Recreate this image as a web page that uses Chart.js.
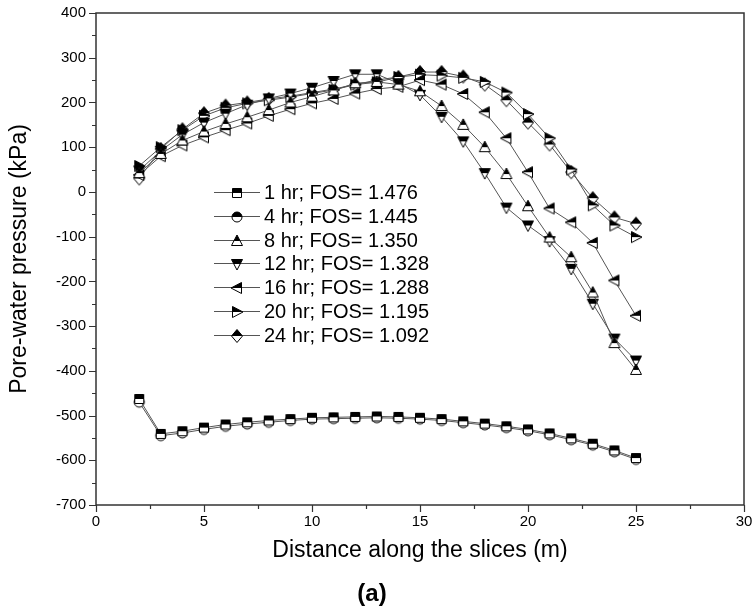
<!DOCTYPE html>
<html>
<head>
<meta charset="utf-8">
<script src="https://cdn.jsdelivr.net/npm/chart.js@4.4.1/dist/chart.umd.min.js"></script>
<style>
  html, body { margin: 0; padding: 0; background: #fff; }
  #wrap { width: 755px; height: 614px; }
</style>
</head>
<body>
<div id="wrap"><canvas id="c" width="755" height="614"></canvas></div>
<script>
// Distance along the slices (m)
const distance = [2, 3, 4, 5, 6, 7, 8, 9, 10, 11, 12, 13, 14, 15, 16, 17, 18, 19, 20, 21, 22, 23, 24, 25];

// Legend labels, one per elapsed time
const seriesLabels = [
  '1 hr; FOS= 1.476',
  '4 hr; FOS= 1.445',
  '8 hr; FOS= 1.350',
  '12 hr; FOS= 1.328',
  '16 hr; FOS= 1.288',
  '20 hr; FOS= 1.195',
  '24 hr; FOS= 1.092'
];

// Pore-water pressure (kPa) at each slice
const pwp1hr  = [-463, -541, -535, -527, -520, -515, -511, -508, -505, -504, -503, -502, -503, -505, -508, -513, -518, -524, -531, -540, -551, -563, -578, -595];
const pwp4hr  = [-470, -545, -539, -531, -524, -519, -515, -511, -508, -507, -506, -505, -506, -508, -511, -516, -521, -527, -534, -543, -554, -566, -581, -598];
const pwp8hr  = [42, 85, 115, 135, 152, 167, 183, 200, 213, 227, 243, 246, 240, 225, 192, 150, 100, 40, -32, -102, -146, -225, -338, -398];
const pwp12hr = [48, 92, 128, 155, 175, 195, 209, 220, 233, 248, 263, 263, 243, 217, 168, 113, 42, -35, -75, -110, -172, -250, -328, -377];
const pwp16hr = [38, 80, 104, 122, 138, 153, 170, 185, 198, 208, 220, 230, 235, 250, 240, 219, 178, 120, 44, -37, -68, -114, -198, -277];
const pwp20hr = [58, 100, 138, 170, 188, 198, 205, 212, 220, 228, 240, 245, 257, 262, 260, 255, 246, 222, 174, 120, 50, -30, -75, -101];
const pwp24hr = [30, 96, 140, 176, 193, 200, 208, 214, 222, 230, 240, 250, 257, 268, 268, 258, 240, 205, 155, 106, 44, -14, -57, -71];

const seriesValues = [pwp1hr, pwp4hr, pwp8hr, pwp12hr, pwp16hr, pwp20hr, pwp24hr];
const markerShapes = ['square', 'circle', 'up', 'down', 'left', 'right', 'diamond'];

// Half-filled markers: black upper half, white lower half, black outline
function makeMarker(shape) {
  const s = 16;
  const c = document.createElement('canvas');
  c.width = s; c.height = s;
  const g = c.getContext('2d');
  const cx = s / 2, cy = s / 2;
  g.beginPath();
  switch (shape) {
    case 'square':  g.rect(cx - 4.5, cy - 4.5, 9, 9); break;
    case 'circle':  g.arc(cx, cy, 5, 0, Math.PI * 2); break;
    case 'up':      g.moveTo(cx, cy - 6); g.lineTo(cx + 5.5, cy + 4.5); g.lineTo(cx - 5.5, cy + 4.5); g.closePath(); break;
    case 'down':    g.moveTo(cx - 5.5, cy - 4.5); g.lineTo(cx + 5.5, cy - 4.5); g.lineTo(cx, cy + 6); g.closePath(); break;
    case 'left':    g.moveTo(cx - 6, cy); g.lineTo(cx + 4.5, cy - 5.5); g.lineTo(cx + 4.5, cy + 5.5); g.closePath(); break;
    case 'right':   g.moveTo(cx + 6, cy); g.lineTo(cx - 4.5, cy - 5.5); g.lineTo(cx - 4.5, cy + 5.5); g.closePath(); break;
    case 'diamond': g.moveTo(cx, cy - 6.5); g.lineTo(cx + 5.5, cy); g.lineTo(cx, cy + 6.5); g.lineTo(cx - 5.5, cy); g.closePath(); break;
  }
  g.fillStyle = '#fff';
  g.fill();
  g.save();
  g.clip();
  g.fillStyle = '#000';
  g.fillRect(0, 0, s, cy);
  g.restore();
  g.lineWidth = 1;
  g.strokeStyle = '#000';
  g.stroke();
  return c;
}

const markers = markerShapes.map(makeMarker);

const datasets = seriesValues.map((vals, i) => ({
  label: seriesLabels[i],
  data: distance.map((d, k) => ({ x: d, y: vals[k] })),
  borderColor: '#555',
  borderWidth: 1,
  pointStyle: markers[i],
  pointRadius: 5,
  pointHoverRadius: 5,
  fill: false,
  tension: 0
}));

// Box around the plot area with outward major/minor tick marks
const framePlugin = {
  id: 'frame',
  beforeDatasetsDraw(chart) {
    const { ctx, chartArea: a, scales: { x, y } } = chart;
    ctx.save();
    ctx.strokeStyle = '#333';
    ctx.lineWidth = 1.5;
    ctx.strokeRect(a.left, a.top, a.right - a.left, a.bottom - a.top);
    ctx.lineWidth = 1.2;
    ctx.beginPath();
    x.ticks.forEach(t => {
      const px = Math.round(x.getPixelForValue(t.value)) + 0.5;
      const len = (t.value % 5 === 0) ? 7 : 4;
      ctx.moveTo(px, a.bottom);
      ctx.lineTo(px, a.bottom + len);
    });
    y.ticks.forEach(t => {
      const py = Math.round(y.getPixelForValue(t.value)) + 0.5;
      const len = (t.value % 100 === 0) ? 7 : 4;
      ctx.moveTo(a.left, py);
      ctx.lineTo(a.left - len, py);
    });
    ctx.stroke();
    ctx.restore();
  }
};

// Legend block drawn inside the plot area
const insideLegend = {
  id: 'insideLegend',
  afterDatasetsDraw(chart) {
    const { ctx, chartArea: a } = chart;
    const x0 = a.left + 118, x1 = a.left + 164, xm = a.left + 141, tx = a.left + 168;
    const top = a.top + 179, step = 23.8;
    ctx.save();
    ctx.font = '20px "Liberation Sans", Arial, sans-serif';
    ctx.textBaseline = 'middle';
    ctx.fillStyle = '#000';
    chart.data.datasets.forEach((ds, i) => {
      const yy = Math.round(top + i * step) + 0.5;
      ctx.strokeStyle = '#555';
      ctx.lineWidth = 1;
      ctx.beginPath();
      ctx.moveTo(x0, yy);
      ctx.lineTo(x1, yy);
      ctx.stroke();
      const img = ds.pointStyle;
      ctx.drawImage(img, Math.round(xm - img.width / 2), Math.round(yy - img.height / 2));
      ctx.fillText(ds.label, tx, yy + 1);
    });
    ctx.restore();
  }
};

const FONT = '"Liberation Sans", Arial, sans-serif';

new Chart(document.getElementById('c'), {
  type: 'line',
  data: { datasets },
  options: {
    responsive: false,
    animation: false,
    devicePixelRatio: 1,
    layout: { padding: { top: 13, right: 11, left: 0, bottom: 0 } },
    plugins: {
      legend: { display: false },
      tooltip: { enabled: false },
      title: {
        display: true,
        position: 'bottom',
        text: '(a)',
        color: '#000',
        font: { family: FONT, size: 24, weight: 'bold' },
        padding: { top: 8, bottom: 5 }
      }
    },
    scales: {
      x: {
        type: 'linear',
        min: 0,
        max: 30,
        grid: { display: false, drawTicks: false },
        border: { display: false },
        afterFit(scale) {
          scale.height = 67.2;
          scale.paddingLeft = 0;
          scale.paddingRight = 0;
        },
        ticks: {
          stepSize: 2.5,
          autoSkip: false,
          maxRotation: 0,
          padding: 8,
          color: '#000',
          font: { family: FONT, size: 15 },
          callback: v => (v % 5 === 0 ? String(v) : '')
        },
        title: {
          display: true,
          text: 'Distance along the slices (m)',
          color: '#000',
          font: { family: FONT, size: 23 },
          padding: { top: 4, bottom: 8 }
        }
      },
      y: {
        min: -700,
        max: 400,
        grid: { display: false, drawTicks: false },
        border: { display: false },
        afterFit(scale) {
          scale.width = 96;
          scale.paddingTop = 0;
          scale.paddingBottom = 0;
        },
        ticks: {
          stepSize: 50,
          autoSkip: false,
          padding: 10,
          color: '#000',
          font: { family: FONT, size: 15 },
          callback: v => (v % 100 === 0 ? String(v) : '')
        },
        title: {
          display: true,
          text: 'Pore-water pressure (kPa)',
          color: '#000',
          font: { family: FONT, size: 23 },
          padding: { top: 6, bottom: 4 }
        }
      }
    }
  },
  plugins: [framePlugin, insideLegend]
});
</script>
</body>
</html>
